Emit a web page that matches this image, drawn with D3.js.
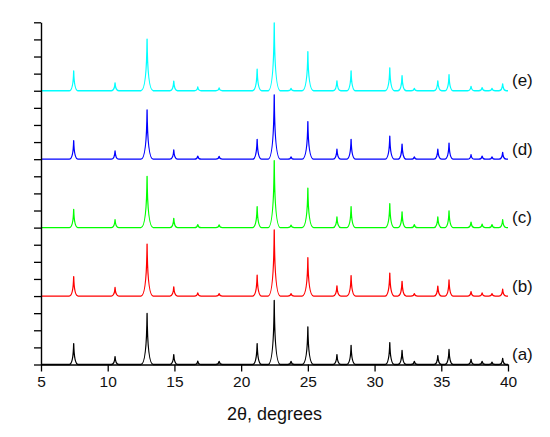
<!DOCTYPE html>
<html>
<head>
<meta charset="utf-8">
<script src="https://cdn.jsdelivr.net/npm/d3@7"></script>
<style>
  html, body { margin: 0; padding: 0; background: #fff; }
  svg { display: block; }
</style>
</head>
<body>
<svg id="chart" width="550" height="437"></svg>
<script>
// ---- data ----
const peakPositions = [7.45, 10.55, 12.95, 14.95, 16.75, 18.35, 21.2, 22.48, 23.74, 25.0, 27.18, 28.24, 31.14, 32.06, 32.98, 34.74, 35.58, 37.23, 38.06, 38.8, 39.6];
const seriesNames = ["(a)", "(b)", "(c)", "(d)", "(e)"];
const seriesOffsets = [0, 20, 40, 60, 80];
const seriesA = [6.1, 2.3, 14.9, 2.9, 1.0, 0.9, 6.1, 18.7, 0.9, 11.0, 2.9, 5.6, 6.4, 4.1, 0.9, 2.6, 4.4, 1.5, 0.9, 0.7, 1.8];
const seriesB = [5.7, 2.5, 15.2, 2.7, 0.9, 0.7, 6.1, 19.3, 0.7, 11.2, 3.0, 6.0, 6.7, 4.3, 0.7, 2.9, 4.7, 1.3, 0.9, 0.7, 2.0];
const seriesC = [5.3, 2.3, 15.0, 2.7, 0.9, 0.8, 6.1, 19.6, 0.7, 11.5, 3.1, 6.1, 7.0, 4.6, 0.9, 3.1, 4.9, 1.6, 1.0, 0.9, 2.3];
const seriesD = [5.4, 2.4, 14.4, 2.7, 0.9, 0.8, 5.8, 18.8, 0.7, 11.0, 2.9, 5.8, 6.7, 4.4, 0.7, 2.9, 4.7, 1.3, 0.9, 0.7, 2.0];
const seriesE = [5.8, 2.3, 15.1, 2.8, 1.1, 0.8, 6.3, 19.8, 0.7, 11.4, 2.9, 5.8, 6.7, 4.4, 0.7, 2.9, 4.7, 1.3, 0.9, 0.7, 2.0];
const xTickValues = [5, 10, 15, 20, 25, 30, 35, 40];
const xDomain = [5, 40];
const yDomain = [0, 100];
const xTitle = "2\u03B8, degrees";

// ---- styles ----
const colors = ["#000000", "#ff0000", "#00ff00", "#0000ff", "#00ffff"];
const allSeries = [seriesA, seriesB, seriesC, seriesD, seriesE];
const font = "'Liberation Sans', Arial, sans-serif";

const svg = d3.select("#chart");
const x = d3.scaleLinear().domain(xDomain).range([41, 508]);
const y = d3.scaleLinear().domain(yDomain).range([364.5, 22.3]);

function tracePath(vals, offset) {
  const p = d3.path();
  const yb = y(offset);
  p.moveTo(x(xDomain[0]), yb);
  peakPositions.forEach((pos, i) => {
    const px = x(pos);
    const yt = y(offset + vals[i]);
    const h = yb - yt;
    const w = 3.2 + Math.min(h, 45) * 0.065;
    p.lineTo(px - w, yb);
    p.quadraticCurveTo(px - 0.5, yb, px, yt);
    p.quadraticCurveTo(px + 0.5, yb, px + w, yb);
  });
  p.lineTo(x(xDomain[1]), yb);
  return p.toString();
}

const order = [4, 3, 2, 1];
order.forEach(i => {
  svg.append("path")
    .attr("d", tracePath(allSeries[i], seriesOffsets[i]))
    .attr("fill", "none")
    .attr("stroke", colors[i])
    .attr("stroke-width", 1.3)
    .attr("stroke-linejoin", "round");
});

// x axis
const xAxis = d3.axisBottom(x).tickValues(xTickValues).tickSize(7).tickSizeOuter(0).tickFormat(d3.format("d"));
const xMinor = d3.axisBottom(x).tickValues(d3.range(7.5, 40, 5)).tickSize(4).tickSizeOuter(0).tickFormat("");
const gx = svg.append("g").attr("transform", `translate(0,${y(0)})`);
gx.call(xMinor);
gx.call(xAxis);
gx.selectAll("path.domain").attr("stroke", "#000").attr("stroke-width", 1.4);
gx.selectAll("line").attr("stroke", "#000").attr("stroke-width", 1.3);
gx.selectAll("text").attr("font-family", font).attr("font-size", 15.5).attr("fill", "#111").attr("dy", "0.71em").attr("y", 11);

// y axis (no labels)
const yMajor = d3.axisLeft(y).tickValues(d3.range(0, 101, 5)).tickSize(7).tickSizeOuter(0).tickFormat("");
const yMinor = d3.axisLeft(y).tickValues(d3.range(2.5, 100, 5)).tickSize(4).tickSizeOuter(0).tickFormat("");
const gy = svg.append("g").attr("transform", `translate(${x(xDomain[0])},0)`);
gy.call(yMinor);
gy.call(yMajor);
gy.selectAll("path.domain").attr("stroke", "#000").attr("stroke-width", 1.4);
gy.selectAll("line").attr("stroke", "#000").attr("stroke-width", 1.3);

// black trace (a) lies on the x axis
svg.append("path")
  .attr("d", tracePath(seriesA, seriesOffsets[0]))
  .attr("fill", "none")
  .attr("stroke", colors[0])
  .attr("stroke-width", 1.3)
  .attr("stroke-linejoin", "round");

// series labels
seriesNames.forEach((name, i) => {
  svg.append("text")
    .attr("x", 512)
    .attr("y", y(seriesOffsets[i]) - 4.5)
    .attr("font-family", font)
    .attr("font-size", 17)
    .attr("fill", "#111")
    .text(name);
});

// x title
svg.append("text")
  .attr("x", x(22.5))
  .attr("y", 420)
  .attr("text-anchor", "middle")
  .attr("font-family", font)
  .attr("font-size", 18)
  .attr("fill", "#111")
  .text(xTitle);
</script>
</body>
</html>
